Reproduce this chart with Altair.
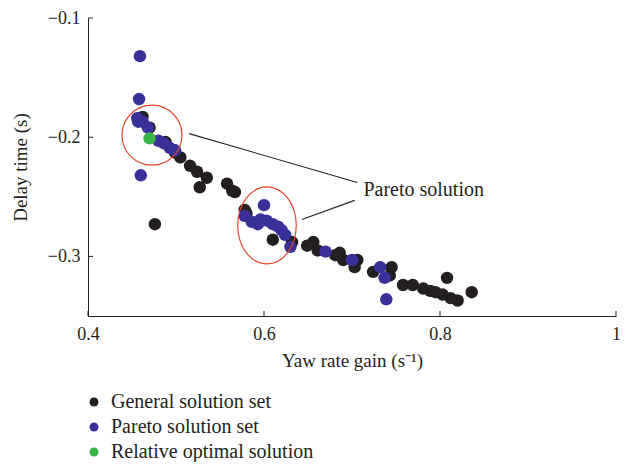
import altair as alt
import pandas as pd

# ---- data ----
general_x = [0.462, 0.470, 0.488, 0.499, 0.476, 0.505, 0.516, 0.524, 0.535, 0.527,
             0.558, 0.567, 0.564, 0.578, 0.580, 0.610, 0.632, 0.649, 0.656, 0.661,
             0.681, 0.686, 0.690, 0.703, 0.706, 0.724, 0.745, 0.743, 0.758, 0.769,
             0.781, 0.789, 0.808, 0.803, 0.820, 0.836, 0.795, 0.812]
general_y = [-0.183, -0.192, -0.204, -0.213, -0.273, -0.217, -0.224, -0.229, -0.234, -0.242,
             -0.239, -0.246, -0.245, -0.261, -0.264, -0.286, -0.288, -0.291, -0.288, -0.295,
             -0.299, -0.297, -0.303, -0.309, -0.303, -0.313, -0.309, -0.316, -0.324, -0.324,
             -0.327, -0.329, -0.318, -0.332, -0.337, -0.330, -0.330, -0.335]

pareto_x = [0.459, 0.458, 0.460, 0.456, 0.457, 0.462, 0.468, 0.480, 0.486, 0.493, 0.499,
            0.600, 0.578, 0.586, 0.593, 0.603, 0.610, 0.616, 0.620, 0.624, 0.630, 0.596,
            0.670, 0.700, 0.732, 0.737, 0.739]
pareto_y = [-0.132, -0.168, -0.232, -0.184, -0.187, -0.187, -0.192, -0.203, -0.205, -0.209, -0.211,
            -0.257, -0.266, -0.271, -0.273, -0.270, -0.273, -0.275, -0.278, -0.282, -0.292, -0.269,
            -0.296, -0.303, -0.309, -0.318, -0.336]

optimal_x = [0.470]
optimal_y = [-0.201]

categories = ["General solution set", "Pareto solution set", "Relative optimal solution"]
colors = ["#231f20", "#39309a", "#3bb44a"]

x_ticks = [0.4, 0.6, 0.8, 1.0]
y_ticks = [-0.1, -0.2, -0.3]

# annotation: circles around Pareto clusters, leader lines and label
ring1_x, ring1_y = [0.4727], [-0.1983]
ring2_x, ring2_y = [0.6034], [-0.2740]
lead_x = [0.515, 0.643]
lead_y = [-0.197, -0.269]
lead_x2 = [0.706, 0.703]
lead_y2 = [-0.238, -0.253]
label_x, label_y, label_text = [0.713], [-0.2445], ["Pareto solution"]

# ---- build tables ----
rows = []
for xs_, ys_, k in [(general_x, general_y, 0), (pareto_x, pareto_y, 1), (optimal_x, optimal_y, 2)]:
    for a, b in zip(xs_, ys_):
        rows.append({"x": a, "y": b, "set": categories[k], "ord": k})
df = pd.DataFrame(rows)

W, H = 528, 298
FONT = "Liberation Serif"
INK = "#231f20"
RED = "#e8452c"

xs = alt.Scale(domain=[0.4, 1.0], nice=False, zero=False)
ys = alt.Scale(domain=[-0.35, -0.1], nice=False, zero=False)

points = alt.Chart(df).mark_circle(size=155, opacity=1).encode(
    x=alt.X("x:Q", scale=xs,
            axis=alt.Axis(values=x_ticks, format="~g", title="Yaw rate gain (s⁻¹)",
                          ticks=False, grid=False, labelPadding=9, titlePadding=8,
                          labelFlush=False, labelOverlap=False)),
    y=alt.Y("y:Q", scale=ys,
            axis=alt.Axis(values=y_ticks, format="~g", title="Delay time (s)",
                          ticks=False, grid=False, labelPadding=8, titlePadding=17,
                          labelFlush=False, labelOverlap=False)),
    color=alt.Color("set:N", scale=alt.Scale(domain=categories, range=colors),
                    legend=alt.Legend(title=None, orient="none", legendX=-4, legendY=374,
                                      symbolType="circle", symbolSize=80, labelFontSize=20,
                                      labelFont=FONT, labelColor=INK, labelOffset=7,
                                      labelLimit=0, rowPadding=5, padding=0)),
    order=alt.Order("ord:Q"),
)

xtick_df = pd.DataFrame({"v": x_ticks})
ytick_df = pd.DataFrame({"v": y_ticks})
xticks = alt.Chart(xtick_df).mark_rule(color=INK, strokeWidth=1).encode(
    x=alt.X("v:Q", scale=xs), y=alt.value(H), y2=alt.value(H - 5))
yticks = alt.Chart(ytick_df).mark_rule(color=INK, strokeWidth=1).encode(
    y=alt.Y("v:Q", scale=ys), x=alt.value(0), x2=alt.value(5))

circle_path = "M -1 0 A 1 1 0 1 0 1 0 A 1 1 0 1 0 -1 0 Z"
ellipse_path = "M -0.76 0 A 0.76 1 0 1 0 0.76 0 A 0.76 1 0 1 0 -0.76 0 Z"

ring1 = alt.Chart(pd.DataFrame({"x": ring1_x, "y": ring1_y})).mark_point(
    shape=circle_path, size=3600, filled=False, stroke=RED, strokeWidth=1.2, opacity=1
).encode(x=alt.X("x:Q", scale=xs), y=alt.Y("y:Q", scale=ys))
ring2 = alt.Chart(pd.DataFrame({"x": ring2_x, "y": ring2_y})).mark_point(
    shape=ellipse_path, size=5929, filled=False, stroke=RED, strokeWidth=1.2, opacity=1
).encode(x=alt.X("x:Q", scale=xs), y=alt.Y("y:Q", scale=ys))

leads = alt.Chart(pd.DataFrame({"x": lead_x, "y": lead_y, "x2": lead_x2, "y2": lead_y2})).mark_rule(
    color=INK, strokeWidth=1.1
).encode(x=alt.X("x:Q", scale=xs), y=alt.Y("y:Q", scale=ys), x2="x2:Q", y2="y2:Q")

label = alt.Chart(pd.DataFrame({"x": label_x, "y": label_y, "t": label_text})).mark_text(
    align="left", baseline="middle", font=FONT, fontSize=20, color=INK
).encode(x=alt.X("x:Q", scale=xs), y=alt.Y("y:Q", scale=ys), text="t:N")

chart = alt.layer(points, xticks, yticks, ring1, ring2, leads, label).properties(
    width=W, height=H,
    autosize=alt.AutoSizeParams(type="none"),
    padding={"left": 80, "top": 10, "right": 6, "bottom": 146},
).configure_view(stroke=None).configure_axis(
    domainColor=INK, domainWidth=1, labelFont=FONT, labelFontSize=18, labelColor=INK,
    titleFont=FONT, titleFontSize=19, titleColor=INK, titleFontWeight="normal",
)

chart.save("out.html", embed_options={"renderer": "svg", "actions": False})
